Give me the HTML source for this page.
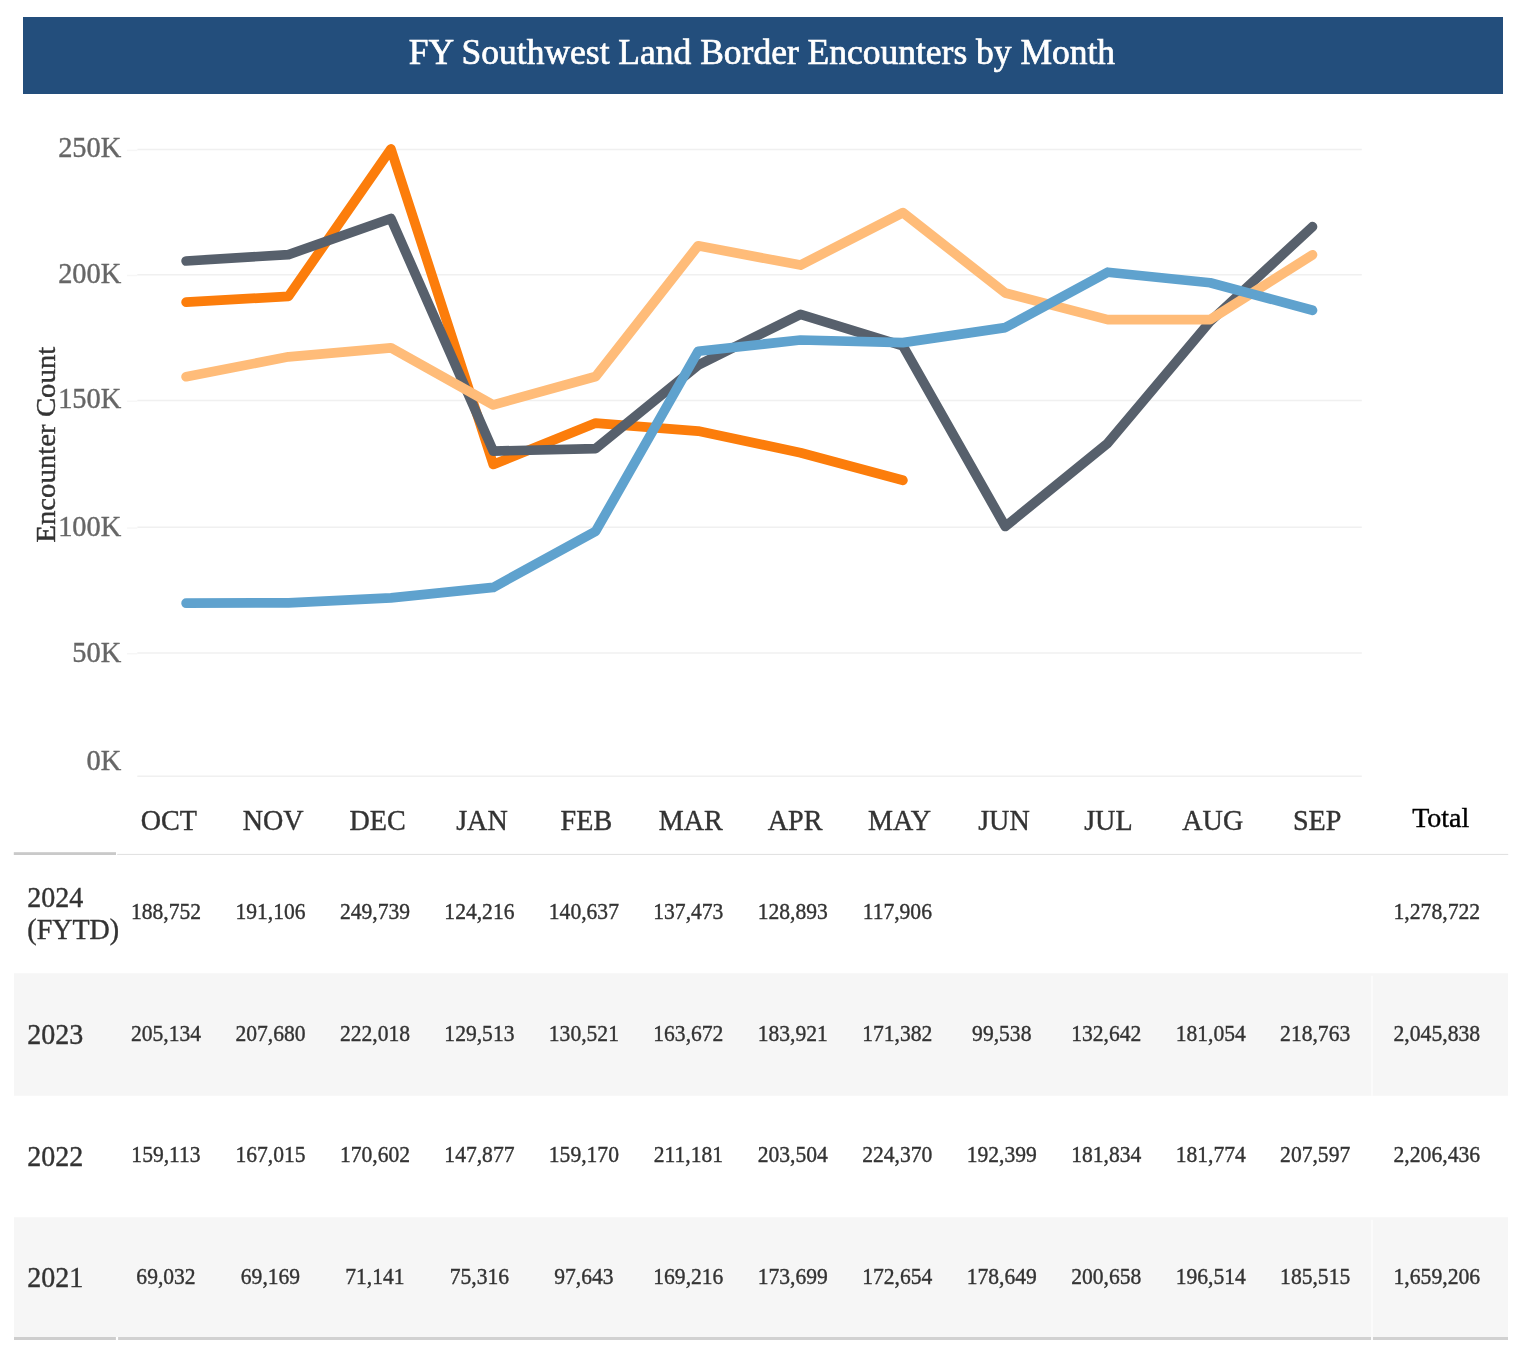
<!DOCTYPE html>
<html lang="en">
<head>
<meta charset="utf-8">
<title>FY Southwest Land Border Encounters by Month</title>
<style>
html,body{margin:0;padding:0;background:#ffffff;}
body{width:1536px;height:1350px;position:relative;overflow:hidden;font-family:"Liberation Serif","Times New Roman",Times,serif;}
.hdr{margin:0;font-weight:normal;font-size:16px;position:absolute;left:23.4px;top:17.2px;width:1479.5px;height:76.6px;background:#234e7c;}
.hdr svg{top:0;}
svg{position:absolute;left:0;font-family:"Liberation Serif","Times New Roman",Times,serif;}
svg.chart{top:0;}
svg.tbl{top:850px;}
svg text{white-space:pre;}
</style>
</head>
<body>
<h1 class="hdr"><svg width="1479.5" height="76.6"><text transform="translate(738.90,46.80) scale(0.978,1)" text-anchor="middle" font-size="36.3" fill="#ffffff" stroke="#ffffff" stroke-width="0.7">FY Southwest Land Border Encounters by Month</text></svg></h1>
<svg class="chart" width="1536" height="850" viewBox="0 0 1536 850">
<g class="grid">
<line x1="137.3" x2="1361.8" y1="149.6" y2="149.6" stroke="#f0f0f0" stroke-width="1.5"/>
<line x1="127" x2="137.3" y1="150.4" y2="150.4" stroke="#f6f6f6" stroke-width="1.4"/>
<line x1="137.3" x2="1361.8" y1="274.7" y2="274.7" stroke="#f0f0f0" stroke-width="1.5"/>
<line x1="127" x2="137.3" y1="275.5" y2="275.5" stroke="#f6f6f6" stroke-width="1.4"/>
<line x1="137.3" x2="1361.8" y1="400.4" y2="400.4" stroke="#f0f0f0" stroke-width="1.5"/>
<line x1="127" x2="137.3" y1="401.2" y2="401.2" stroke="#f6f6f6" stroke-width="1.4"/>
<line x1="137.3" x2="1361.8" y1="527.3" y2="527.3" stroke="#f0f0f0" stroke-width="1.5"/>
<line x1="127" x2="137.3" y1="528.1" y2="528.1" stroke="#f6f6f6" stroke-width="1.4"/>
<line x1="137.3" x2="1361.8" y1="652.9" y2="652.9" stroke="#f0f0f0" stroke-width="1.5"/>
<line x1="127" x2="137.3" y1="653.7" y2="653.7" stroke="#f6f6f6" stroke-width="1.4"/>
<line x1="137.3" x2="1361.8" y1="776.3" y2="776.3" stroke="#f0f0f0" stroke-width="1.5"/>
</g>
<g class="yaxis">
<text transform="translate(121.30,156.90) scale(0.97,1)" text-anchor="end" font-size="29.3" fill="#666666" stroke="#666666" stroke-width="0.4">250K</text>
<text transform="translate(121.30,283.30) scale(0.97,1)" text-anchor="end" font-size="29.3" fill="#666666" stroke="#666666" stroke-width="0.4">200K</text>
<text transform="translate(121.30,408.00) scale(0.97,1)" text-anchor="end" font-size="29.3" fill="#666666" stroke="#666666" stroke-width="0.4">150K</text>
<text transform="translate(121.30,535.50) scale(0.97,1)" text-anchor="end" font-size="29.3" fill="#666666" stroke="#666666" stroke-width="0.4">100K</text>
<text transform="translate(121.30,661.60) scale(0.97,1)" text-anchor="end" font-size="29.3" fill="#666666" stroke="#666666" stroke-width="0.4">50K</text>
<text transform="translate(121.30,770.30) scale(0.97,1)" text-anchor="end" font-size="29.3" fill="#666666" stroke="#666666" stroke-width="0.4">0K</text>
<text transform="translate(54.90,444.70) rotate(-90) scale(1.052,1)" text-anchor="middle" font-size="27.4" fill="#333333" stroke="#333333" stroke-width="0.4">Encounter Count</text>
</g>
<g class="series" fill="none" stroke-linecap="round" stroke-linejoin="round">
<polyline points="186.1,302.2 288.5,296.3 390.9,148.9 493.3,464.4 595.7,423.1 698.1,431.1 800.5,452.7 902.9,480.3" stroke="#fc7d0b" stroke-width="9.7"/>
<polyline points="186.1,261.0 288.5,254.6 390.9,218.5 493.3,451.1 595.7,448.6 698.1,365.2 800.5,314.3 902.9,345.8 1005.3,526.5 1107.7,443.2 1210.1,321.5 1312.5,226.7" stroke="#57606c" stroke-width="9.7"/>
<polyline points="186.1,376.7 288.5,356.8 390.9,347.8 493.3,404.9 595.7,376.5 698.1,245.8 800.5,265.1 902.9,212.6 1005.3,293.0 1107.7,319.6 1210.1,319.7 1312.5,254.8" stroke="#ffbc79" stroke-width="9.7"/>
<polyline points="186.1,603.2 288.5,602.8 390.9,597.9 493.3,587.4 595.7,531.2 698.1,351.3 800.5,340.0 902.9,342.6 1005.3,327.6 1107.7,272.2 1210.1,282.7 1312.5,310.3" stroke="#5fa2ce" stroke-width="9.7"/>
</g>
<g class="months">
<text transform="translate(168.75,830.20) scale(0.97,1)" text-anchor="middle" font-size="29.0" fill="#333333" stroke="#333333" stroke-width="0.4">OCT</text>
<text transform="translate(273.15,830.20) scale(0.97,1)" text-anchor="middle" font-size="29.0" fill="#333333" stroke="#333333" stroke-width="0.4">NOV</text>
<text transform="translate(377.55,830.20) scale(0.97,1)" text-anchor="middle" font-size="29.0" fill="#333333" stroke="#333333" stroke-width="0.4">DEC</text>
<text transform="translate(481.95,830.20) scale(0.97,1)" text-anchor="middle" font-size="29.0" fill="#333333" stroke="#333333" stroke-width="0.4">JAN</text>
<text transform="translate(586.35,830.20) scale(0.97,1)" text-anchor="middle" font-size="29.0" fill="#333333" stroke="#333333" stroke-width="0.4">FEB</text>
<text transform="translate(690.75,830.20) scale(0.97,1)" text-anchor="middle" font-size="29.0" fill="#333333" stroke="#333333" stroke-width="0.4">MAR</text>
<text transform="translate(795.15,830.20) scale(0.97,1)" text-anchor="middle" font-size="29.0" fill="#333333" stroke="#333333" stroke-width="0.4">APR</text>
<text transform="translate(899.55,830.20) scale(0.97,1)" text-anchor="middle" font-size="29.0" fill="#333333" stroke="#333333" stroke-width="0.4">MAY</text>
<text transform="translate(1003.95,830.20) scale(0.97,1)" text-anchor="middle" font-size="29.0" fill="#333333" stroke="#333333" stroke-width="0.4">JUN</text>
<text transform="translate(1108.35,830.20) scale(0.97,1)" text-anchor="middle" font-size="29.0" fill="#333333" stroke="#333333" stroke-width="0.4">JUL</text>
<text transform="translate(1212.75,830.20) scale(0.97,1)" text-anchor="middle" font-size="29.0" fill="#333333" stroke="#333333" stroke-width="0.4">AUG</text>
<text transform="translate(1317.15,830.20) scale(0.97,1)" text-anchor="middle" font-size="29.0" fill="#333333" stroke="#333333" stroke-width="0.4">SEP</text>
<text transform="translate(1440.70,827.00) scale(0.99,1)" text-anchor="middle" font-size="28.3" fill="#000000" stroke="#000000" stroke-width="0.4">Total</text>
</g>
</svg>
<svg class="tbl" width="1536" height="500" viewBox="0 850 1536 500">
<g class="bands">
<rect x="14" y="973.3" width="1494.0" height="122.4" fill="#f6f6f6"/>
<rect x="1371.1" y="975.6999999999999" width="1.8" height="120.0" fill="#fcfcfc"/>
<rect x="14" y="1217.3" width="1494.0" height="119.7" fill="#f6f6f6"/>
<rect x="1371.1" y="1219.7" width="1.8" height="117.3" fill="#fcfcfc"/>
</g>
<g class="rules">
<rect x="13.8" y="852.2" width="102.2" height="2.8" fill="#c9c9c9"/>
<rect x="117.2" y="853.9" width="1391.0" height="1.1" fill="#e2e2e2"/>
<rect x="14" y="1337" width="101.9" height="3" fill="#cecece"/>
<rect x="118.1" y="1337" width="1253" height="3" fill="#d1d1d1"/>
<rect x="1372.9" y="1337" width="135.1" height="3" fill="#d1d1d1"/>
</g>
<g class="row y2024">
<text transform="translate(27.30,906.90) scale(0.95,1)" font-size="29.5" fill="#333333" stroke="#333333" stroke-width="0.4">2024</text>
<text transform="translate(27.30,938.90) scale(0.95,1)" font-size="29.5" fill="#333333" stroke="#333333" stroke-width="0.4">(FYTD)</text>
<text transform="translate(166.00,919.30) scale(0.93,1)" text-anchor="middle" font-size="23.2" fill="#333333" stroke="#333333" stroke-width="0.4">188,752</text>
<text transform="translate(270.47,919.30) scale(0.93,1)" text-anchor="middle" font-size="23.2" fill="#333333" stroke="#333333" stroke-width="0.4">191,106</text>
<text transform="translate(374.94,919.30) scale(0.93,1)" text-anchor="middle" font-size="23.2" fill="#333333" stroke="#333333" stroke-width="0.4">249,739</text>
<text transform="translate(479.41,919.30) scale(0.93,1)" text-anchor="middle" font-size="23.2" fill="#333333" stroke="#333333" stroke-width="0.4">124,216</text>
<text transform="translate(583.88,919.30) scale(0.93,1)" text-anchor="middle" font-size="23.2" fill="#333333" stroke="#333333" stroke-width="0.4">140,637</text>
<text transform="translate(688.35,919.30) scale(0.93,1)" text-anchor="middle" font-size="23.2" fill="#333333" stroke="#333333" stroke-width="0.4">137,473</text>
<text transform="translate(792.82,919.30) scale(0.93,1)" text-anchor="middle" font-size="23.2" fill="#333333" stroke="#333333" stroke-width="0.4">128,893</text>
<text transform="translate(897.29,919.30) scale(0.93,1)" text-anchor="middle" font-size="23.2" fill="#333333" stroke="#333333" stroke-width="0.4">117,906</text>
<text transform="translate(1436.80,919.30) scale(0.93465,1)" text-anchor="middle" font-size="23.2" fill="#333333" stroke="#333333" stroke-width="0.4">1,278,722</text>
</g>
<g class="row y2023">
<text transform="translate(27.30,1044.00) scale(0.95,1)" font-size="29.5" fill="#333333" stroke="#333333" stroke-width="0.4">2023</text>
<text transform="translate(166.00,1041.00) scale(0.93,1)" text-anchor="middle" font-size="23.2" fill="#333333" stroke="#333333" stroke-width="0.4">205,134</text>
<text transform="translate(270.47,1041.00) scale(0.93,1)" text-anchor="middle" font-size="23.2" fill="#333333" stroke="#333333" stroke-width="0.4">207,680</text>
<text transform="translate(374.94,1041.00) scale(0.93,1)" text-anchor="middle" font-size="23.2" fill="#333333" stroke="#333333" stroke-width="0.4">222,018</text>
<text transform="translate(479.41,1041.00) scale(0.93,1)" text-anchor="middle" font-size="23.2" fill="#333333" stroke="#333333" stroke-width="0.4">129,513</text>
<text transform="translate(583.88,1041.00) scale(0.93,1)" text-anchor="middle" font-size="23.2" fill="#333333" stroke="#333333" stroke-width="0.4">130,521</text>
<text transform="translate(688.35,1041.00) scale(0.93,1)" text-anchor="middle" font-size="23.2" fill="#333333" stroke="#333333" stroke-width="0.4">163,672</text>
<text transform="translate(792.82,1041.00) scale(0.93,1)" text-anchor="middle" font-size="23.2" fill="#333333" stroke="#333333" stroke-width="0.4">183,921</text>
<text transform="translate(897.29,1041.00) scale(0.93,1)" text-anchor="middle" font-size="23.2" fill="#333333" stroke="#333333" stroke-width="0.4">171,382</text>
<text transform="translate(1001.76,1041.00) scale(0.93,1)" text-anchor="middle" font-size="23.2" fill="#333333" stroke="#333333" stroke-width="0.4">99,538</text>
<text transform="translate(1106.23,1041.00) scale(0.93,1)" text-anchor="middle" font-size="23.2" fill="#333333" stroke="#333333" stroke-width="0.4">132,642</text>
<text transform="translate(1210.70,1041.00) scale(0.93,1)" text-anchor="middle" font-size="23.2" fill="#333333" stroke="#333333" stroke-width="0.4">181,054</text>
<text transform="translate(1315.17,1041.00) scale(0.93,1)" text-anchor="middle" font-size="23.2" fill="#333333" stroke="#333333" stroke-width="0.4">218,763</text>
<text transform="translate(1436.80,1041.00) scale(0.93465,1)" text-anchor="middle" font-size="23.2" fill="#333333" stroke="#333333" stroke-width="0.4">2,045,838</text>
</g>
<g class="row y2022">
<text transform="translate(27.30,1165.90) scale(0.95,1)" font-size="29.5" fill="#333333" stroke="#333333" stroke-width="0.4">2022</text>
<text transform="translate(166.00,1162.40) scale(0.93,1)" text-anchor="middle" font-size="23.2" fill="#333333" stroke="#333333" stroke-width="0.4">159,113</text>
<text transform="translate(270.47,1162.40) scale(0.93,1)" text-anchor="middle" font-size="23.2" fill="#333333" stroke="#333333" stroke-width="0.4">167,015</text>
<text transform="translate(374.94,1162.40) scale(0.93,1)" text-anchor="middle" font-size="23.2" fill="#333333" stroke="#333333" stroke-width="0.4">170,602</text>
<text transform="translate(479.41,1162.40) scale(0.93,1)" text-anchor="middle" font-size="23.2" fill="#333333" stroke="#333333" stroke-width="0.4">147,877</text>
<text transform="translate(583.88,1162.40) scale(0.93,1)" text-anchor="middle" font-size="23.2" fill="#333333" stroke="#333333" stroke-width="0.4">159,170</text>
<text transform="translate(688.35,1162.40) scale(0.93,1)" text-anchor="middle" font-size="23.2" fill="#333333" stroke="#333333" stroke-width="0.4">211,181</text>
<text transform="translate(792.82,1162.40) scale(0.93,1)" text-anchor="middle" font-size="23.2" fill="#333333" stroke="#333333" stroke-width="0.4">203,504</text>
<text transform="translate(897.29,1162.40) scale(0.93,1)" text-anchor="middle" font-size="23.2" fill="#333333" stroke="#333333" stroke-width="0.4">224,370</text>
<text transform="translate(1001.76,1162.40) scale(0.93,1)" text-anchor="middle" font-size="23.2" fill="#333333" stroke="#333333" stroke-width="0.4">192,399</text>
<text transform="translate(1106.23,1162.40) scale(0.93,1)" text-anchor="middle" font-size="23.2" fill="#333333" stroke="#333333" stroke-width="0.4">181,834</text>
<text transform="translate(1210.70,1162.40) scale(0.93,1)" text-anchor="middle" font-size="23.2" fill="#333333" stroke="#333333" stroke-width="0.4">181,774</text>
<text transform="translate(1315.17,1162.40) scale(0.93,1)" text-anchor="middle" font-size="23.2" fill="#333333" stroke="#333333" stroke-width="0.4">207,597</text>
<text transform="translate(1436.80,1162.40) scale(0.93465,1)" text-anchor="middle" font-size="23.2" fill="#333333" stroke="#333333" stroke-width="0.4">2,206,436</text>
</g>
<g class="row y2021">
<text transform="translate(27.30,1287.10) scale(0.95,1)" font-size="29.5" fill="#333333" stroke="#333333" stroke-width="0.4">2021</text>
<text transform="translate(166.00,1284.10) scale(0.93,1)" text-anchor="middle" font-size="23.2" fill="#333333" stroke="#333333" stroke-width="0.4">69,032</text>
<text transform="translate(270.47,1284.10) scale(0.93,1)" text-anchor="middle" font-size="23.2" fill="#333333" stroke="#333333" stroke-width="0.4">69,169</text>
<text transform="translate(374.94,1284.10) scale(0.93,1)" text-anchor="middle" font-size="23.2" fill="#333333" stroke="#333333" stroke-width="0.4">71,141</text>
<text transform="translate(479.41,1284.10) scale(0.93,1)" text-anchor="middle" font-size="23.2" fill="#333333" stroke="#333333" stroke-width="0.4">75,316</text>
<text transform="translate(583.88,1284.10) scale(0.93,1)" text-anchor="middle" font-size="23.2" fill="#333333" stroke="#333333" stroke-width="0.4">97,643</text>
<text transform="translate(688.35,1284.10) scale(0.93,1)" text-anchor="middle" font-size="23.2" fill="#333333" stroke="#333333" stroke-width="0.4">169,216</text>
<text transform="translate(792.82,1284.10) scale(0.93,1)" text-anchor="middle" font-size="23.2" fill="#333333" stroke="#333333" stroke-width="0.4">173,699</text>
<text transform="translate(897.29,1284.10) scale(0.93,1)" text-anchor="middle" font-size="23.2" fill="#333333" stroke="#333333" stroke-width="0.4">172,654</text>
<text transform="translate(1001.76,1284.10) scale(0.93,1)" text-anchor="middle" font-size="23.2" fill="#333333" stroke="#333333" stroke-width="0.4">178,649</text>
<text transform="translate(1106.23,1284.10) scale(0.93,1)" text-anchor="middle" font-size="23.2" fill="#333333" stroke="#333333" stroke-width="0.4">200,658</text>
<text transform="translate(1210.70,1284.10) scale(0.93,1)" text-anchor="middle" font-size="23.2" fill="#333333" stroke="#333333" stroke-width="0.4">196,514</text>
<text transform="translate(1315.17,1284.10) scale(0.93,1)" text-anchor="middle" font-size="23.2" fill="#333333" stroke="#333333" stroke-width="0.4">185,515</text>
<text transform="translate(1436.80,1284.10) scale(0.93465,1)" text-anchor="middle" font-size="23.2" fill="#333333" stroke="#333333" stroke-width="0.4">1,659,206</text>
</g>
</svg>
</body>
</html>
